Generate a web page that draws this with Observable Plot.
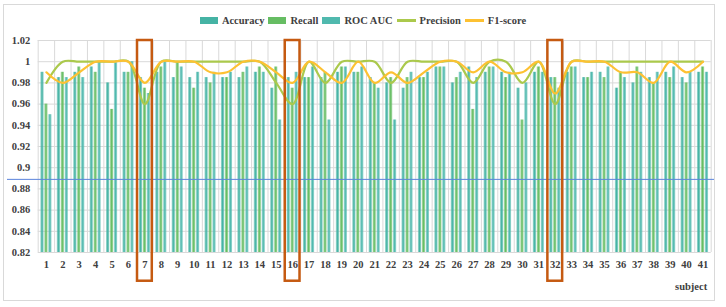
<!DOCTYPE html>
<html>
<head>
<meta charset="utf-8">
<script src="https://cdn.jsdelivr.net/npm/d3@7"></script>
<script src="https://cdn.jsdelivr.net/npm/@observablehq/plot@0.6"></script>
<style>
  body { margin: 0; background: #fff; }
  #chart { position: relative; width: 726px; height: 307px; font-family: "Liberation Serif", "Times New Roman", serif; color: #404040; }
  #frame { position: absolute; left: 3px; top: 4px; width: 712px; height: 297px; border: 1px solid #d9d9d9; box-sizing: border-box; pointer-events: none; }
  #legend { height: 36px; padding-top: 5px; box-sizing: border-box; display: flex; justify-content: center; align-items: center; font-weight: bold; font-size: 10.5px; }
  .item { display: flex; align-items: center; margin: 0 2px; }
  .box { width: 18px; height: 7px; margin-right: 4px; }
  .ln { width: 19px; height: 2.5px; margin-right: 4px; }
  svg { display: block; overflow: visible; }
</style>
</head>
<body>
<div id="chart">
  <div id="frame"></div>
  <div id="legend"></div>
</div>
<script>
// Per-subject classification metrics
const subjects = [1,2,3,4,5,6,7,8,9,10,11,12,13,14,15,16,17,18,19,20,21,22,23,24,25,26,27,28,29,30,31,32,33,34,35,36,37,38,39,40,41];

const accuracy = [0.99,0.985,0.99,0.995,0.98,0.99,0.985,0.99,0.985,0.985,0.985,0.985,0.985,0.99,0.975,0.985,0.985,0.985,0.99,0.99,
  0.985,0.98,0.975,0.985,0.995,0.98,0.995,0.99,0.99,0.975,0.99,0.985,0.99,0.985,0.99,0.975,0.98,0.985,0.99,0.985,0.99];

const recall = [0.96,0.99,0.995,0.99,0.955,0.99,0.975,0.995,1.0,0.975,0.98,0.985,0.99,0.995,0.995,0.975,0.985,0.99,0.995,0.99,
  0.98,0.985,0.985,0.985,0.995,0.985,0.955,0.995,0.985,0.945,0.995,0.985,0.995,0.985,0.985,0.99,0.995,0.98,0.985,0.98,0.995];

const rocAuc = [0.95,0.985,0.985,1.0,0.999,1.0,0.97,1.0,0.995,0.99,0.99,0.99,0.995,0.99,0.945,0.99,0.995,0.945,0.995,0.995,
  0.975,0.945,0.99,0.99,0.995,0.99,0.985,0.995,0.99,0.98,0.99,0.975,0.995,0.99,0.995,0.985,0.99,0.99,0.995,0.99,0.99];

const precision = [0.98,1,1,1,1,1,0.96,1,1,1,1,1,1,1,0.98,0.96,1,0.98,1,1,
  1,0.98,1,1,1,1,0.98,1,1,0.98,1,0.96,1,1,1,1,1,1,1,1,1];

const f1Score = [0.99,0.98,0.99,1,1,1,0.98,1,1,1,0.99,0.99,1,1,0.99,0.98,1,0.99,0.98,1,
  0.98,0.99,0.98,0.99,1,1,0.99,1,0.99,0.99,1,0.97,1,1,1,0.99,0.99,0.98,1,0.99,1];

const yTicks = [0.82,0.84,0.86,0.88,0.9,0.92,0.94,0.96,0.98,1,1.02];
const threshold = [0.889];
const highlighted = [7, 16, 32];

const colors = {
  accuracy: "#45b3a4",
  recall: "#66bd63",
  rocAuc: "#50b9ae",
  precision: "#abc94c",
  f1: "#fdc132",
  threshold: "#5b84dc",
  highlight: "#c55a11"
};

// Legend
const legendItems = [
  {label: "Accuracy", color: colors.accuracy, type: "box"},
  {label: "Recall", color: colors.recall, type: "box"},
  {label: "ROC AUC", color: colors.rocAuc, type: "box"},
  {label: "Precision", color: colors.precision, type: "ln"},
  {label: "F1-score", color: colors.f1, type: "ln"}
];
const legend = document.getElementById("legend");
for (const it of legendItems) {
  const el = document.createElement("div");
  el.className = "item";
  el.innerHTML = `<span class="${it.type}" style="background:${it.color}"></span><span>${it.label}</span>`;
  legend.appendChild(el);
}

// Clustered bars: three bars per subject, each shaded lighter at its edges
const barW = 0.1;
const rows = (values, offset) => subjects.map((s, i) => ({subject: s, x1: s + offset - barW, x2: s + offset + barW, value: values[i]}));
const accRows = rows(accuracy, -0.24);
const recRows = rows(recall, 0);
const rocRows = rows(rocAuc, 0.24);

const precRows = subjects.map((s, i) => ({subject: s, value: precision[i]}));
const f1Rows = subjects.map((s, i) => ({subject: s, value: f1Score[i]}));
const boundaries = subjects.map(s => s - 0.5).concat([subjects[subjects.length - 1] + 0.5]);

const barMark = (data, id) => Plot.rect(data, {x1: "x1", x2: "x2", y1: () => 0.82, y2: "value", fill: `url(#${id})`});

const chart = Plot.plot({
  width: 726,
  height: 271,
  marginTop: 4,
  marginBottom: 55,
  marginLeft: 37.7,
  marginRight: 15.3,
  x: {domain: [0.5, 41.5], axis: null},
  y: {domain: [0.82, 1.02], axis: null},
  style: {fontFamily: '"Liberation Serif", "Times New Roman", serif', fontSize: "10.5px", fontWeight: "bold", color: "#404040", background: "transparent"},
  marks: [
    Plot.ruleY(yTicks, {stroke: "#d9d9d9", strokeWidth: 1}),
    Plot.ruleX(boundaries, {y1: () => 0.82, y2: () => 1.02, stroke: "#d9d9d9", strokeWidth: 1}),
    barMark(accRows, "g-acc"),
    barMark(recRows, "g-rec"),
    barMark(rocRows, "g-roc"),
    Plot.line(precRows, {x: "subject", y: "value", stroke: colors.precision, strokeWidth: 2.2, curve: "catmull-rom"}),
    Plot.line(f1Rows, {x: "subject", y: "value", stroke: colors.f1, strokeWidth: 2.2, curve: "catmull-rom"}),
    Plot.ruleY(threshold, {x1: () => -1.37, x2: () => 41.71, stroke: colors.threshold, strokeWidth: 1}),
    Plot.rect(highlighted, {x1: d => d - 0.45, x2: d => d + 0.45, y1: () => 0.7929, y2: () => 1.02, fill: "none", stroke: colors.highlight, strokeWidth: 2.5}),
    Plot.axisY(yTicks, {tickSize: 0, tickPadding: 8, label: null, tickFormat: d => String(+d.toFixed(2))}),
    Plot.axisX(subjects, {tickSize: 0, tickPadding: 8, label: null, tickFormat: d => String(d)}),
    Plot.text(["subject"], {frameAnchor: "bottom-right", dx: -4, dy: 37, textAnchor: "end"})
  ]
});

// Horizontal gradients used by the bar fills
const grad = (id, c) => `<linearGradient id="${id}" x1="0" x2="1" y1="0" y2="0">
  <stop offset="0" stop-color="${c}" stop-opacity="0.45"/>
  <stop offset="0.5" stop-color="${c}" stop-opacity="1"/>
  <stop offset="1" stop-color="${c}" stop-opacity="0.55"/>
</linearGradient>`;
const defs = document.createElementNS("http://www.w3.org/2000/svg", "defs");
defs.innerHTML = grad("g-acc", colors.accuracy) + grad("g-rec", colors.recall) + grad("g-roc", colors.rocAuc);
chart.insertBefore(defs, chart.firstChild);

document.getElementById("chart").appendChild(chart);
</script>
</body>
</html>
